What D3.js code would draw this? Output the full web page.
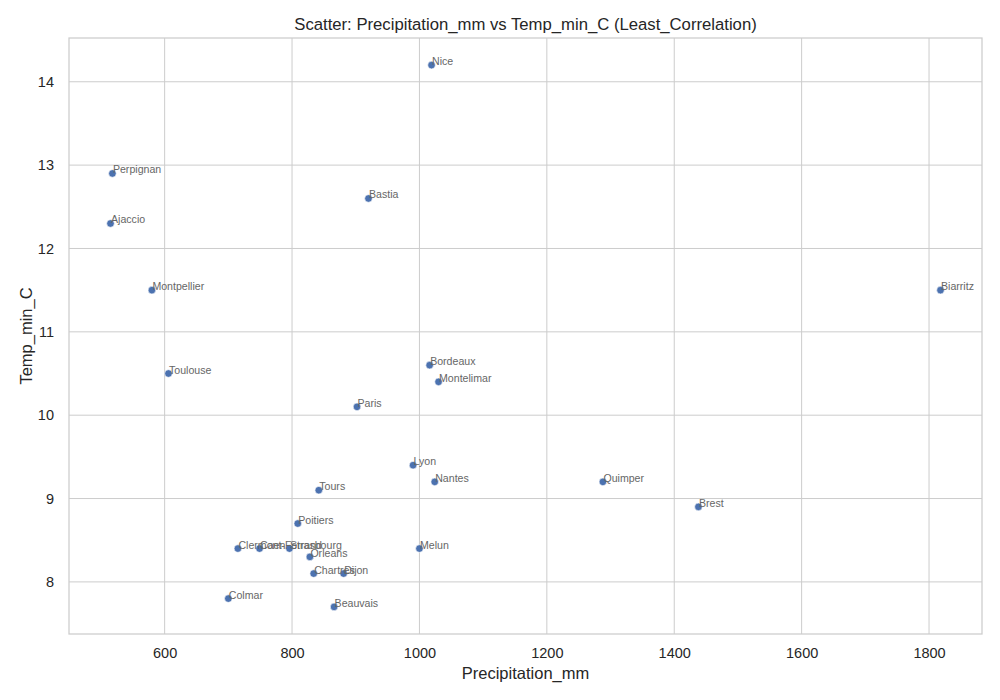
<!DOCTYPE html>
<html>
<head>
<meta charset="utf-8">
<script src="https://cdn.jsdelivr.net/npm/d3@7"></script>
<style>
  body { margin: 0; background: #fff; }
  svg { font-family: "Liberation Sans", Arial, sans-serif; }
</style>
</head>
<body>
<div id="chart"></div>
<script>
// city names and values
var cities = ["Nice", "Perpignan", "Ajaccio", "Montpellier", "Toulouse", "Bastia", "Biarritz",
  "Bordeaux", "Montelimar", "Paris", "Lyon", "Nantes", "Quimper", "Brest", "Tours", "Poitiers",
  "Clermont-Ferrand", "Caen", "Strasbourg", "Orleans", "Melun", "Chartres", "Dijon", "Colmar", "Beauvais"];
var precipitation = [1019, 518, 515, 580, 606, 920, 1818,
  1016, 1030, 902, 990, 1024, 1288, 1438, 842, 809,
  715, 749, 796, 828, 1000, 834, 881, 700, 866];
var tempMin = [14.2, 12.9, 12.3, 11.5, 10.5, 12.6, 11.5,
  10.6, 10.4, 10.1, 9.4, 9.2, 9.2, 8.9, 9.1, 8.7,
  8.4, 8.4, 8.4, 8.3, 8.4, 8.1, 8.1, 7.8, 7.7];
var xTicks = [600, 800, 1000, 1200, 1400, 1600, 1800];
var yTicks = [8, 9, 10, 11, 12, 13, 14];

var W = 1000, H = 700;
var margin = {top: 38, right: 18, bottom: 66, left: 69},
width = W - margin.left - margin.right,
height = H - margin.top - margin.bottom;

var data = cities.map(function(c, i) {
  return {name: c, x: precipitation[i], y: tempMin[i]};
});

// matplotlib style 5% margins around the data
function padded(ext) {
  var r = ext[1] - ext[0];
  return [ext[0] - r * 0.05, ext[1] + r * 0.05];
}

var x = d3.scaleLinear()
  .domain(padded(d3.extent(precipitation)))
  .range([0, width]);

var y = d3.scaleLinear()
  .domain(padded(d3.extent(tempMin)))
  .range([height, 0]);

var svg = d3.select("#chart").append("svg")
  .attr("width", W)
  .attr("height", H);

var g = svg.append("g")
  .attr("transform", "translate(" + margin.left + "," + margin.top + ")");

// grid
g.append("g")
  .selectAll("line")
  .data(xTicks)
  .enter().append("line")
    .attr("x1", function(d) { return x(d); })
    .attr("x2", function(d) { return x(d); })
    .attr("y1", 0)
    .attr("y2", height)
    .attr("stroke", "#cccccc")
    .attr("stroke-width", 1);

g.append("g")
  .selectAll("line")
  .data(yTicks)
  .enter().append("line")
    .attr("y1", function(d) { return y(d); })
    .attr("y2", function(d) { return y(d); })
    .attr("x1", 0)
    .attr("x2", width)
    .attr("stroke", "#cccccc")
    .attr("stroke-width", 1);

// axes, tick lines hidden like seaborn whitegrid
var xAxis = g.append("g")
  .attr("transform", "translate(0," + height + ")")
  .call(d3.axisBottom(x).tickValues(xTicks).tickSize(0).tickPadding(14).tickFormat(d3.format("d")));

var yAxis = g.append("g")
  .call(d3.axisLeft(y).tickValues(yTicks).tickSize(0).tickPadding(15).tickFormat(d3.format("d")));

[xAxis, yAxis].forEach(function(a) {
  a.select(".domain").remove();
  a.selectAll("text")
    .style("font-family", "Liberation Sans, Arial, sans-serif")
    .style("font-size", "14.5px")
    .attr("fill", "#262626");
});

// frame
g.append("rect")
  .attr("x", 0)
  .attr("y", 0)
  .attr("width", width)
  .attr("height", height)
  .attr("fill", "none")
  .attr("stroke", "#cccccc")
  .attr("stroke-width", 1.25);

// points
g.append("g")
  .selectAll("circle")
  .data(data)
  .enter().append("circle")
    .attr("cx", function(d) { return x(d.x); })
    .attr("cy", function(d) { return y(d.y); })
    .attr("r", 3.8)
    .attr("fill", "#4c72b0")
    .attr("stroke", "#ffffff")
    .attr("stroke-width", 0.6);

// city labels
g.append("g")
  .selectAll("text")
  .data(data)
  .enter().append("text")
    .attr("x", function(d) { return x(d.x) + 0.5; })
    .attr("y", function(d) { return y(d.y); })
    .attr("font-size", "10.6px")
    .attr("fill", "#666666")
    .text(function(d) { return d.name; });

// titles
svg.append("text")
  .attr("x", margin.left + width / 2)
  .attr("y", 30)
  .attr("text-anchor", "middle")
  .attr("font-size", "16.7px")
  .attr("fill", "#262626")
  .text("Scatter: Precipitation_mm vs Temp_min_C (Least_Correlation)");

svg.append("text")
  .attr("x", margin.left + width / 2)
  .attr("y", 679)
  .attr("text-anchor", "middle")
  .attr("font-size", "16.5px")
  .attr("fill", "#262626")
  .text("Precipitation_mm");

svg.append("text")
  .attr("transform", "translate(32," + (margin.top + height / 2) + ") rotate(-90)")
  .attr("text-anchor", "middle")
  .attr("font-size", "16.5px")
  .attr("fill", "#262626")
  .text("Temp_min_C");
</script>
</body>
</html>
